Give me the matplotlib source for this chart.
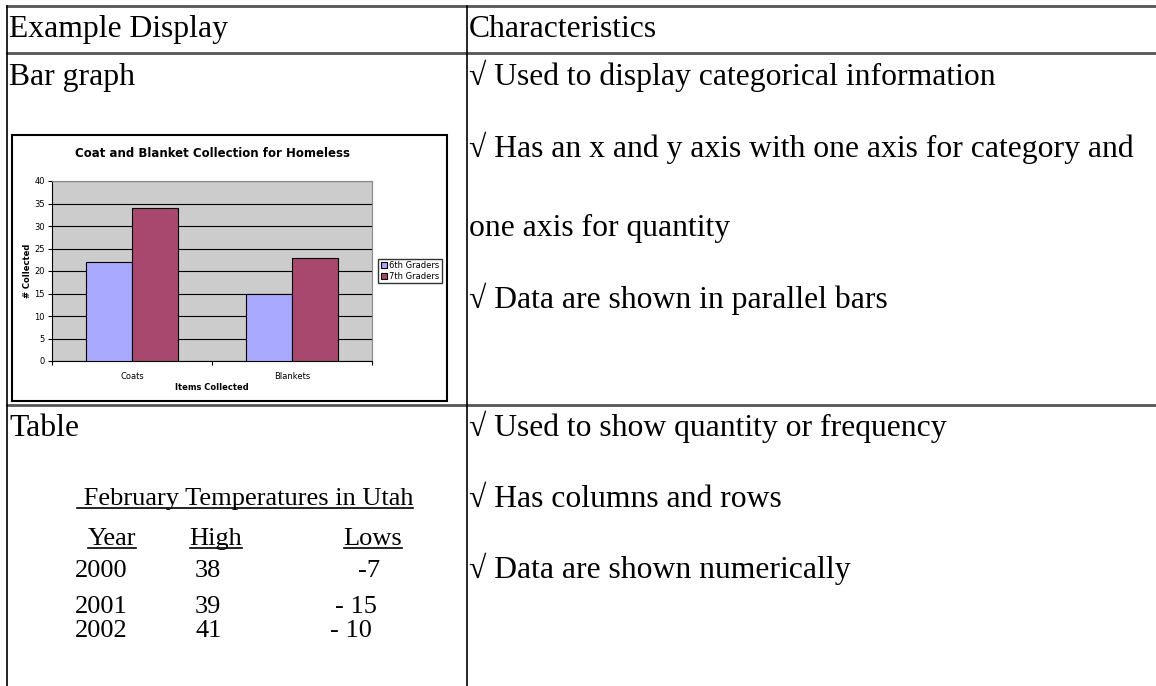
import numpy as np
import matplotlib
matplotlib.use('Agg')
import matplotlib.pyplot as plt

# bar chart data
categories = ['Coats', 'Blankets']
sixth = [22, 15]
seventh = [34, 23]
series_names = ['6th Graders', '7th Graders']

# temperature table
years = ['2000', '2001', '2002']
highs = ['38', '39', '41']
lows = ['-7', '- 15', '- 10']

row1_points = ['\u221a Used to display categorical information',
               '\u221a Has an x and y axis with one axis for category and',
               'one axis for quantity',
               '\u221a Data are shown in parallel bars']
row2_points = ['\u221a Used to show quantity or frequency',
               '\u221a Has columns and rows',
               '\u221a Data are shown numerically']

W, H = 1156, 686
SERIF = 'Liberation Serif'
FS = 22.8   # body text
TFS = 19    # text of the small temperature table

fig = plt.figure(figsize=(W / 100, H / 100), dpi=100)
page = fig.add_axes([0, 0, 1, 1])
page.set_xlim(0, W)
page.set_ylim(H, 0)
page.axis('off')

# table rules
lc = '#555555'
page.plot([7, W], [6, 6], color=lc, lw=2)
page.plot([7, W], [53, 53], color=lc, lw=2)
page.plot([7, W], [405, 405], color=lc, lw=2)
page.plot([7, 7], [6, H], color='black', lw=1.2)
page.plot([467, 467], [6, H], color='black', lw=1.2)

page.text(9, 37, 'Example Display', fontsize=FS, family=SERIF, va='baseline')
page.text(469, 37, 'Characteristics', fontsize=FS, family=SERIF, va='baseline')
page.text(9, 85, 'Bar graph', fontsize=FS, family=SERIF, va='baseline')
page.text(9, 436, 'Table', fontsize=FS, family=SERIF, va='baseline')

for txt, y in zip(row1_points, [85, 157, 236, 308]):
    page.text(469, y, txt, fontsize=FS, family=SERIF, va='baseline')
for txt, y in zip(row2_points, [436, 507, 578]):
    page.text(469, y, txt, fontsize=FS, family=SERIF, va='baseline')

# chart frame
page.add_patch(plt.Rectangle((12, 135), 435, 266, fill=False, ec='black', lw=1.5))

# temperature table inside the cell
def underlined(x, y, s, ha='left'):
    t = page.text(x, y, s, fontsize=TFS, family=SERIF, va='baseline', ha=ha)
    fig.canvas.draw()
    bb = t.get_window_extent().transformed(page.transData.inverted())
    page.plot([bb.x0, bb.x1], [y + 3, y + 3], color='black', lw=1.2)

underlined(245, 505, ' February Temperatures in Utah', ha='center')
underlined(112, 545, 'Year', ha='center')
underlined(216, 545, 'High', ha='center')
underlined(373, 545, 'Lows', ha='center')
lo_x = [358, 335, 330]
for yr, hi, lo, lx, y in zip(years, highs, lows, lo_x, [577, 613, 637]):
    page.text(75, y, yr, fontsize=TFS, family=SERIF, va='baseline')
    page.text(195, y, hi, fontsize=TFS, family=SERIF, va='baseline')
    page.text(lx, y, lo, fontsize=TFS, family=SERIF, va='baseline')

# embedded Excel-style bar chart
ax = fig.add_axes([52 / W, 1 - 361 / H, 320 / W, 180 / H])
x = np.arange(len(categories))
bw = 0.2857
ax.bar(x - bw / 2, sixth, bw, color='#A9AAFF', edgecolor='black', lw=0.8, label=series_names[0], zorder=3)
ax.bar(x + bw / 2, seventh, bw, color='#A8486F', edgecolor='black', lw=0.8, label=series_names[1], zorder=3)
ax.set_facecolor('#CCCCCC')
ax.set_xlim(-0.5, 1.5)
ax.set_ylim(0, 40)
ax.set_yticks(np.arange(0, 41, 5))
ax.yaxis.grid(True, color='black', lw=0.8, zorder=1)
ax.set_xticks([-0.5, 0.5, 1.5])
ax.set_xticklabels([])
ax.set_xticks(x, minor=True)
ax.set_xticklabels(categories, minor=True)
ax.tick_params(axis='x', which='minor', length=0, labelsize=6, pad=8)
ax.tick_params(axis='x', which='major', length=3, direction='out')
ax.tick_params(axis='y', labelsize=6, length=3, pad=2)
for s in ['top', 'right']:
    ax.spines[s].set_color('#888888')
ax.set_title('Coat and Blanket Collection for Homeless', fontsize=8.5, fontweight='bold', pad=17)
ax.set_xlabel('Items Collected', fontsize=6, fontweight='bold', labelpad=1)
ax.set_ylabel('# Collected', fontsize=6, fontweight='bold', labelpad=2)
ax.legend(loc='center left', bbox_to_anchor=(1.02, 0.5), fontsize=6, frameon=True,
          fancybox=False, edgecolor='black', handlelength=0.7, handleheight=0.7,
          handletextpad=0.3, borderpad=0.3, labelspacing=0.2, borderaxespad=0)

fig.savefig('out.png', dpi=100)
